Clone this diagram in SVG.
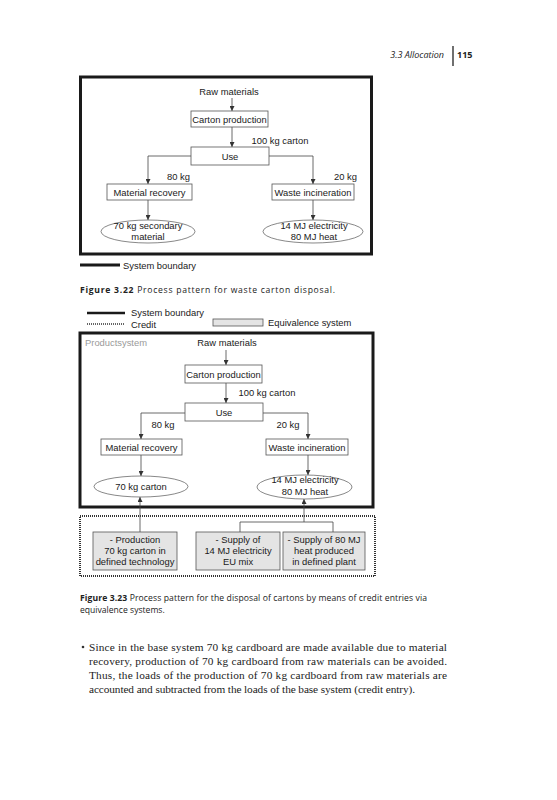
<svg xmlns="http://www.w3.org/2000/svg" width="557" height="800" viewBox="0 0 557 800">
<defs>
<marker id="ah" viewBox="0 0 6 6" refX="6" refY="3" markerWidth="5" markerHeight="5" orient="auto" markerUnits="userSpaceOnUse">
<path d="M0,0 L6,3 L0,6 z" fill="#333"/>
</marker>
<style>
.d{font-family:"Liberation Sans",Arial,sans-serif;font-size:9.4px;fill:#1a1a1a;text-anchor:middle}
.dl{font-family:"Liberation Sans",Arial,sans-serif;font-size:9.4px;fill:#1a1a1a}
.box{fill:#fff;stroke:#555;stroke-width:0.8}
.eq{fill:#e4e4e4;stroke:#555;stroke-width:0.8}
.ell{fill:#fff;stroke:#555;stroke-width:0.7}
.ln{fill:none;stroke:#444;stroke-width:0.8}
.arr{fill:none;stroke:#444;stroke-width:0.8;marker-end:url(#ah)}
.bnd{fill:none;stroke:#1a1a1a;stroke-width:3}
.cap{font-family:"Open Sans","Noto Sans",sans-serif;font-size:8.6px;fill:#222}
.body{font-family:"Liberation Serif","DejaVu Serif",serif;font-size:11.3px;fill:#222}
</style>
</defs>
<rect width="557" height="800" fill="#fff"/>

<!-- header -->
<text x="444" y="58" text-anchor="end" font-family="'Open Sans','Noto Sans',sans-serif" font-size="9" font-style="italic" fill="#222">3.3  Allocation</text>
<line x1="453" y1="46" x2="453" y2="66" stroke="#222" stroke-width="1.3"/>
<text x="457" y="58" font-family="'Open Sans','Noto Sans',sans-serif" font-size="9" font-weight="bold" fill="#222">115</text>

<!-- ===== Figure 3.22 ===== -->
<g id="fig1">
<rect class="bnd" x="80.5" y="77" width="291" height="177"/>
<g id="f1-connectors">
<line class="arr" x1="232" y1="98" x2="232" y2="111"/>
<line class="arr" x1="232" y1="127" x2="232" y2="147"/>
<polyline class="arr" points="191,156 148,156 148,184"/>
<polyline class="arr" points="269,156 313,156 313,184"/>
<line class="arr" x1="148" y1="200" x2="148" y2="220"/>
<line class="arr" x1="313" y1="200" x2="313" y2="220"/>
</g>
<g id="f1-raw"><text class="d" x="229" y="95">Raw materials</text></g>
<g id="f1-carton"><rect class="box" x="191" y="111" width="77" height="16"/><text class="d" x="229.5" y="122.5">Carton production</text></g>
<text class="d" x="280" y="144">100 kg carton</text>
<g id="f1-use"><rect class="box" x="191" y="147" width="78" height="18"/><text class="d" x="230" y="159.5">Use</text></g>
<text class="dl" x="190" y="180" text-anchor="end">80 kg</text>
<text class="dl" x="357" y="180" text-anchor="end">20 kg</text>
<g id="f1-matrec"><rect class="box" x="107" y="184" width="85" height="16"/><text class="d" x="149.5" y="195.5">Material recovery</text></g>
<g id="f1-waste"><rect class="box" x="272" y="184" width="82" height="16"/><text class="d" x="313" y="195.5">Waste incineration</text></g>
<g id="f1-sec"><ellipse class="ell" cx="148" cy="231.5" rx="47" ry="11.5"/><text class="d" x="148" y="229">70 kg secondary</text><text class="d" x="148" y="240">material</text></g>
<g id="f1-energy"><ellipse class="ell" cx="313" cy="231.5" rx="50" ry="11.5"/><text class="d" x="314" y="229">14 MJ electricity</text><text class="d" x="314" y="240">80 MJ heat</text></g>
<g id="f1-legend"><line x1="80" y1="265" x2="120" y2="265" stroke="#1a1a1a" stroke-width="3"/><text class="dl" x="123" y="268.5">System boundary</text></g>
</g>
<text class="cap" x="80" y="293" textLength="255" lengthAdjust="spacing"><tspan font-weight="bold">Figure 3.22</tspan>   Process pattern for waste carton disposal.</text>

<!-- ===== Figure 3.23 ===== -->
<g id="fig2">
<g id="f2-legend">
<line x1="87" y1="313" x2="125" y2="313" stroke="#1a1a1a" stroke-width="2.5"/>
<text class="dl" x="131" y="316">System boundary</text>
<line x1="87" y1="324" x2="125" y2="324" stroke="#333" stroke-width="1.5" stroke-dasharray="1 1"/>
<text class="dl" x="131" y="328">Credit</text>
<rect class="eq" x="213" y="319" width="50" height="7"/>
<text class="dl" x="268" y="325.5">Equivalence system</text>
</g>
<rect class="bnd" x="80" y="333" width="293" height="174"/>
<rect x="80" y="516" width="295" height="60" fill="none" stroke="#333" stroke-width="2" stroke-dasharray="1 1"/>
<text class="dl" x="85" y="346" style="fill:#9a9a9a">Productsystem</text>
<g id="f2-connectors">
<line class="arr" x1="226" y1="350" x2="226" y2="365"/>
<line class="arr" x1="226" y1="383" x2="226" y2="403"/>
<polyline class="arr" points="185,413 141,413 141,439"/>
<polyline class="arr" points="263,413 308,413 308,439"/>
<line class="arr" x1="141" y1="455" x2="141" y2="476"/>
<line class="arr" x1="308" y1="455" x2="308" y2="475"/>
<line class="arr" x1="140" y1="532" x2="140" y2="497"/>
<polyline class="ln" points="240,532 240,522 333,522 333,532"/>
<line class="arr" x1="304" y1="522" x2="304" y2="499"/>
</g>
<g id="f2-raw"><text class="d" x="227" y="346">Raw materials</text></g>
<g id="f2-carton"><rect class="box" x="185" y="365" width="77" height="18"/><text class="d" x="223.5" y="377.5">Carton production</text></g>
<text class="d" x="267" y="396">100 kg carton</text>
<g id="f2-use"><rect class="box" x="185" y="403" width="78" height="18"/><text class="d" x="224" y="415.5">Use</text></g>
<text class="d" x="163" y="428">80 kg</text>
<text class="d" x="288" y="428">20 kg</text>
<g id="f2-matrec"><rect class="box" x="101" y="439" width="81" height="16"/><text class="d" x="141.5" y="450.5">Material recovery</text></g>
<g id="f2-waste"><rect class="box" x="266" y="439" width="82" height="16"/><text class="d" x="307" y="450.5">Waste incineration</text></g>
<g id="f2-carton70"><ellipse class="ell" cx="141" cy="486.5" rx="47" ry="10.5"/><text class="d" x="141" y="489.5">70 kg carton</text></g>
<g id="f2-energy"><ellipse class="ell" cx="304.5" cy="487" rx="47.5" ry="12"/><text class="d" x="305" y="483">14 MJ electricity</text><text class="d" x="305" y="495">80 MJ heat</text></g>
<g id="f2-eq1"><rect class="eq" x="93" y="532" width="84" height="38"/><text class="d" x="135" y="543">- Production</text><text class="d" x="135" y="554">70 kg carton in</text><text class="d" x="135" y="565">defined technology</text></g>
<g id="f2-eq2"><rect class="eq" x="196" y="532" width="84" height="38"/><text class="d" x="238" y="543">- Supply of</text><text class="d" x="238" y="554">14 MJ electricity</text><text class="d" x="238" y="565">EU mix</text></g>
<g id="f2-eq3"><rect class="eq" x="283" y="532" width="82" height="38"/><text class="d" x="324" y="543">- Supply of 80 MJ</text><text class="d" x="324" y="554">heat produced</text><text class="d" x="324" y="565">in defined plant</text></g>
</g>
<text class="cap" x="80" y="601" textLength="347" lengthAdjust="spacing"><tspan font-weight="bold">Figure 3.23</tspan>   Process pattern for the disposal of cartons by means of credit entries via</text>
<text class="cap" x="80" y="613">equivalence systems.</text>

<!-- body text -->
<circle cx="83" cy="647" r="1.3" fill="#333"/>
<text class="body" x="89" y="651" textLength="358" lengthAdjust="spacing">Since in the base system 70 kg cardboard are made available due to material</text>
<text class="body" x="89" y="665" textLength="358" lengthAdjust="spacing">recovery, production of 70 kg cardboard from raw materials can be avoided.</text>
<text class="body" x="89" y="679" textLength="358" lengthAdjust="spacing">Thus, the loads of the production of 70 kg cardboard from raw materials are</text>
<text class="body" x="89" y="693" textLength="326" lengthAdjust="spacing">accounted and subtracted from the loads of the base system (credit entry).</text>
</svg>
